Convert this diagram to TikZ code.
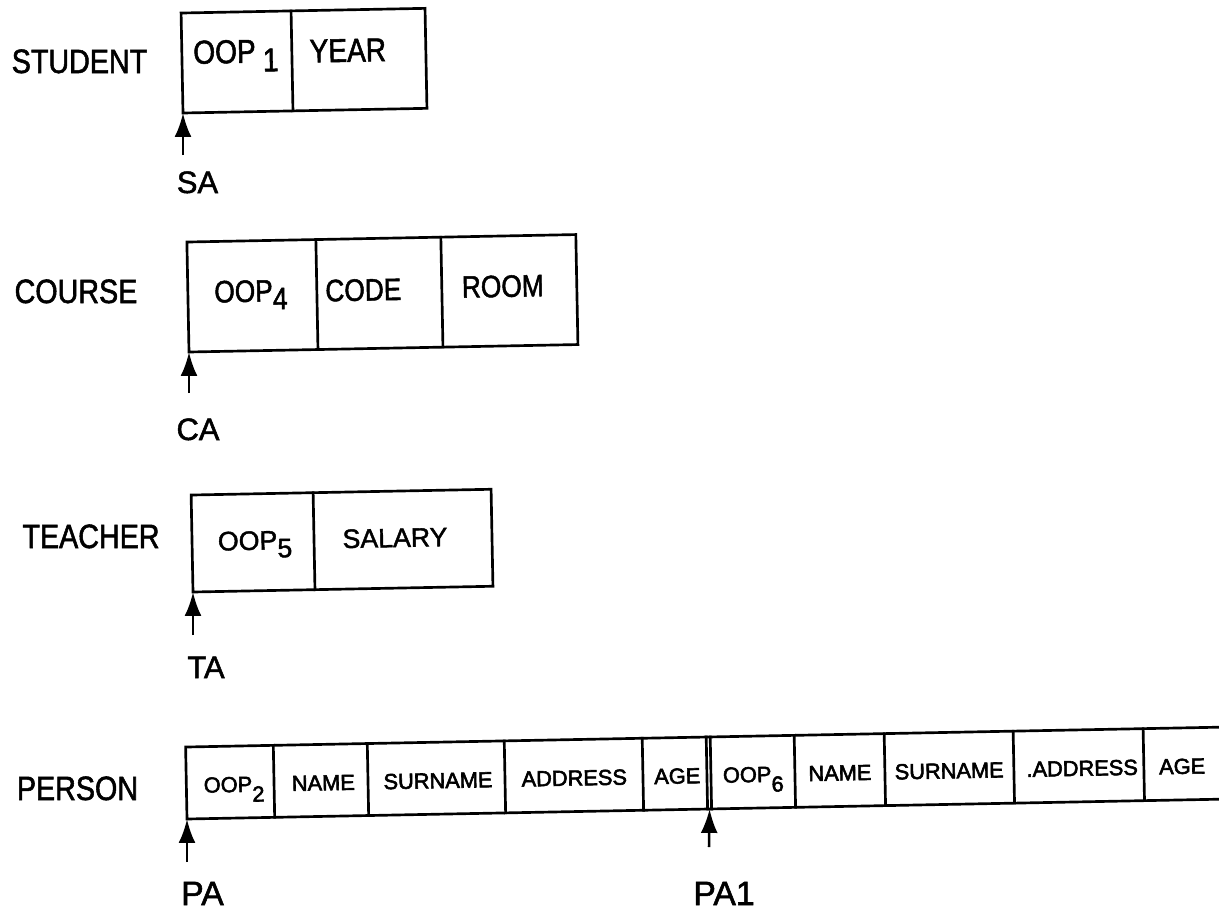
\documentclass[tikz,border=0pt]{standalone}
\usepackage{fontspec}
\setmainfont{Liberation Sans}[FakeBold=1.6]
\newfontfamily\condfont{Liberation Sans}[FakeStretch=0.85, FakeBold=1.6]
\newfontfamily\smallfont{Liberation Sans}[FakeBold=2.6]
\usetikzlibrary{arrows.meta}

% digit set full size and dropped below the baseline
\newcommand\lowdig[3][0pt]{\hspace{#1}\raisebox{-#2}{#3}}

\tikzset{
  frame/.style={line width=1.9pt, line cap=rect, line join=miter},
  ptr/.style={line width=1.8pt, -{Latex[length=17pt,width=12pt]}},
  txt/.style={anchor=base, inner sep=0pt},
  rowlabel/.style={txt, font=\condfont\fontsize{24pt}{24pt}\selectfont},
  ptrlabel/.style={txt, font=\fontsize{22pt}{22pt}\selectfont},
  ptrlabelB/.style={txt, font=\fontsize{24pt}{24pt}\selectfont},
  cellA/.style={txt, font=\condfont\fontsize{23.5pt}{24pt}\selectfont},
  cellB/.style={txt, font=\condfont\fontsize{22pt}{22pt}\selectfont},
  cellC/.style={txt, font=\fontsize{19pt}{19pt}\selectfont},
  cellD/.style={txt, font=\smallfont\fontsize{15.5pt}{16pt}\selectfont},
}

\begin{document}
\begin{tikzpicture}[x=0.025cm, y=-0.025cm]
\useasboundingbox (0,0) rectangle (1219,910);
\clip (0,0) rectangle (1219,910);

% ---------- STUDENT ----------
\begin{scope}[shift={(183,113)}, rotate=1.1, transform shape]
  \coordinate (stuA) at (0,0);
  \draw[frame] (0,0) rectangle (244,-100);
  \draw[frame] (110,0) -- (110,-100);
  \node[cellA] (s1) at (54,-49) {OOP\lowdig[5pt]{6.4pt}{1}};
  \node[cellA] (s2) at (166,-48) {YEAR};
\end{scope}
\node[rowlabel] (lstu) at (79.5,73) {STUDENT};
\coordinate (sat) at (183,155);
\draw[ptr] (sat) -- (stuA);
\node[ptrlabel] (sa) at (197.5,193) {SA};

% ---------- COURSE ----------
\begin{scope}[shift={(189,352)}, rotate=1.1, transform shape]
  \coordinate (crsA) at (0,0);
  \draw[frame] (0,0) rectangle (389,-110);
  \draw[frame] (129,0) -- (129,-110);
  \draw[frame] (254,0) -- (254,-110);
  \node[cellB] (c1) at (63,-49) {OOP\lowdig{5.7pt}{4}};
  \node[cellB] (c2) at (175.5,-48) {CODE};
  \node[cellB] (c3) at (315,-49) {ROOM};
\end{scope}
\node[rowlabel] (lcrs) at (76,303) {COURSE};
\coordinate (cat) at (189,393);
\draw[ptr] (cat) -- (crsA);
\node[ptrlabel] (ca) at (198,440) {CA};

% ---------- TEACHER ----------
\begin{scope}[shift={(193,592)}, rotate=1.1, transform shape]
  \coordinate (tchA) at (0,0);
  \draw[frame] (0,0) rectangle (300,-97);
  \draw[frame] (122,0) -- (122,-97);
  \node[cellC] (t1) at (63,-41) {OOP\lowdig{5.7pt}{5}};
  \node[cellC] (t2) at (203,-41) {SALARY};
\end{scope}
\node[rowlabel] (ltch) at (91,548) {TEACHER};
\coordinate (tat) at (193,635);
\draw[ptr] (tat) -- (tchA);
\node[ptrlabel] (ta) at (206,678) {TA};

% ---------- PERSON ----------
\begin{scope}[shift={(187,819)}, rotate=1.1, transform shape]
  \coordinate (perA) at (0,0);
  \coordinate (perB) at (522.7,0);
  \draw[frame] (1045,-72) -- (0,-72) -- (0,0) -- (1045,0);
  \foreach \u in {87.7,181.7,318.7,456.7,520.7,524.7,608.7,698.7,827.7,957.7}
    \draw[frame] (\u,0) -- (\u,-72);
  \node[cellD] (p1)  at (47.7,-26) {OOP\lowdig{7pt}{2}};
  \node[cellD] (p2)  at (137,-26)  {NAME};
  \node[cellD] (p3)  at (251.7,-26) {SURNAME};
  \node[cellD] (p4)  at (388,-26)  {ADDRESS};
  \node[cellD] (p5)  at (491,-26)  {AGE};
  \node[cellD] (p6)  at (567,-26)  {OOP\lowdig{7pt}{6}};
  \node[cellD] (p7)  at (653.7,-26) {NAME};
  \node[cellD] (p8)  at (763,-26)  {SURNAME};
  \node[cellD] (p9)  at (896,-26)  {.ADDRESS};
  \node[cellD] (p10) at (996,-26)  {AGE};
\end{scope}
\node[rowlabel] (lper) at (77.5,800) {PERSON};
\coordinate (pat) at (187,862);
\draw[ptr] (pat) -- (perA);
\node[ptrlabelB] (pa) at (202.5,905) {PA};
\coordinate (pa1t) at (709,847);
\draw[ptr] (pa1t) -- (perB);
\node[ptrlabelB] (pa1) at (724,905) {PA1};
\end{tikzpicture}
\end{document}
